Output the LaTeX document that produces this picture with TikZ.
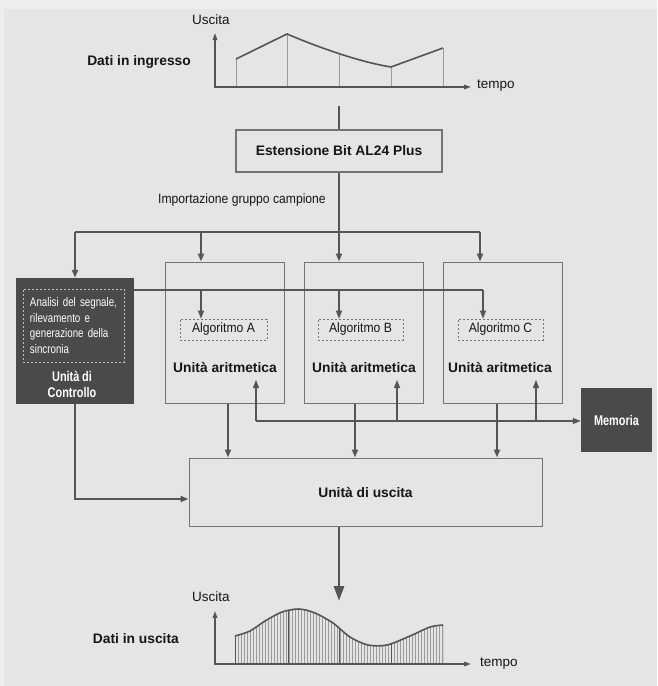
\documentclass[tikz,border=0pt]{standalone}
\usepackage{fontspec}
\setmainfont{Liberation Sans}
\newfontfamily\narrowfont[FakeStretch=0.9]{Liberation Sans}
\newfontfamily\condfont[FakeStretch=0.78]{Liberation Sans}
\newcommand\narrowspace{\spaceskip=3.4pt plus 1pt\relax}
\newcommand\condspace{\spaceskip=2.7pt plus 1pt\relax}
\usetikzlibrary{arrows.meta}
\definecolor{bgray}{HTML}{E5E5E5}
\definecolor{topgray}{HTML}{EDEDED}
\definecolor{linegray}{HTML}{555555}
\definecolor{boxgray}{HTML}{747474}
\definecolor{darkfill}{HTML}{4A4A4A}
\definecolor{inkblack}{HTML}{161616}
\definecolor{hatchgray}{HTML}{9A9A9A}

\begin{document}
\begin{tikzpicture}[x=1pt, y=-1pt,
    txt/.style={font=\fontsize{13.5}{16}\selectfont, text=inkblack, inner sep=0},
    boldtxt/.style={font=\fontsize{13.8}{16}\selectfont\bfseries, text=inkblack, inner sep=0},
    narrowtxt/.style={font=\narrowfont\fontsize{13.5}{16}\selectfont\narrowspace,
        text=inkblack, inner sep=0},
    whitetxt/.style={font=\condfont\bfseries\fontsize{14}{16}\selectfont\condspace,
        text=white, inner sep=0, align=center},
    unitbox/.style={draw=boxgray, line width=1pt, minimum width=119, minimum height=141, inner sep=0},
    algobox/.style={draw=boxgray, dashed, dash pattern=on 2pt off 2pt, line width=0.8pt,
        minimum height=21, inner sep=0, narrowtxt},
    darkbox/.style={fill=darkfill, draw=none, inner sep=0},
    bus/.style={draw=linegray, line width=2pt},
    wire/.style={draw=linegray, line width=1.1pt},
    arr/.style={-{Triangle[length=8pt, width=6pt]}},
    axisline/.style={draw=linegray, line width=1.5pt,
        {Triangle[length=7pt, width=4.5pt]}-{Triangle[length=7pt, width=4.5pt]}},
    sampleline/.style={draw=hatchgray, line width=0.9pt},
    curveline/.style={draw=linegray, line width=1.6pt}
]
    % Background
    \fill[topgray] (0,0) rectangle (657,686);
    \fill[bgray] (4,9) rectangle (657,686);
    \useasboundingbox (0,0) rectangle (657,686);

    % Input signal
    \node[txt] (yin) at (211,20) {Uscita};
    \node[boldtxt, anchor=east] (datiin) at (191,62) {Dati in ingresso};
    \node[txt, anchor=west] (tin) at (477,86) {tempo};
    \foreach \x/\y in {236/59, 287/34, 339/53, 391/67, 443/48}
        \draw[sampleline] (\x,\y) -- (\x,87);
    \draw[curveline] (236,59) -- (287,34) .. controls (320,48) and (360,62) .. (391,67) -- (443,48);
    \coordinate (o1) at (215,87);
    \draw[axisline] (215,33) -- (o1) -- (471,87);

    % Bit extension
    \coordinate (intop) at (339,106);
    \node[draw=boxgray, line width=1.4pt, minimum width=206, minimum height=42, inner sep=0,
        boldtxt] (est) at (339,151) {Estensione Bit AL24 Plus};
    \draw[bus, line width=2.4pt] (intop) -- (est.north);
    \node[narrowtxt] (imp) at (242,200) {Importazione gruppo campione};

    % Control unit
    \node[darkbox, minimum width=118, minimum height=126] (ctrl) at (75,341) {};
    \node[draw=white!75!black, dashed, dash pattern=on 2pt off 2pt, line width=0.8pt,
        minimum width=101, minimum height=73, text width=87, inner xsep=7, inner ysep=0,
        align=left, font=\condfont\fontsize{12.5}{15.7}\selectfont\condspace, text=white]
        (sig) at (73.5,325.5) {Analisi del segnale,\\ rilevamento e\\ generazione della\\ sincronia};
    \node[whitetxt] (ctrltxt) at (72,384) {Unità di\\ Controllo};

    % Arithmetic units
    \foreach \u/\xc in {ua/224.5, ub/363.5, uc/502.5}
        \node[unitbox] (\u) at (\xc,332.5) {};
    \node[algobox, minimum width=87] (algA) at (223.5,329.5) {Algoritmo A};
    \node[algobox, minimum width=85] (algB) at (360.5,329.5) {Algoritmo B};
    \node[algobox, minimum width=85] (algC) at (500.5,329.5) {Algoritmo C};
    \node[boldtxt] (aritA) at (225,368) {Unità aritmetica};
    \node[boldtxt] (aritB) at (364,368) {Unità aritmetica};
    \node[boldtxt] (aritC) at (500,368) {Unità aritmetica};

    % Memory and output unit
    \node[darkbox, minimum width=71, minimum height=64, whitetxt] (mem) at (616.5,420) {Memoria};
    \node[draw=boxgray, line width=1pt, minimum width=353, minimum height=68, inner sep=0,
        boldtxt] (usc) at (365.5,492) {Unità di uscita};

    % Sample bus
    \coordinate (busrow) at (0,232);
    \coordinate (dA) at (201,0);
    \coordinate (dB) at (339,0);
    \coordinate (dC) at (480,0);
    \draw[bus] (est.south) -- (est.south |- busrow);
    \draw[bus] (ctrl.north |- busrow) -- (dC |- busrow);
    \draw[bus, arr] (ctrl.north |- busrow) -- (ctrl.north);
    \foreach \d/\u in {dA/ua, dB/ub, dC/uc}
        \draw[bus, arr] (\d |- busrow) -- (\d |- \u.north);

    % Sync line
    \coordinate (syncrow) at (0,290);
    \coordinate (sA) at (201,0);
    \coordinate (sB) at (339,0);
    \coordinate (sC) at (483,0);
    \draw[wire] (ctrl.east |- syncrow) -- (sC |- syncrow);
    \foreach \s/\a in {sA/algA, sB/algB, sC/algC}
        \draw[wire, arr] (\s |- syncrow) -- (\s |- \a.north);

    % Memory bus
    \coordinate (memrow) at (0,421);
    \coordinate (uprow) at (0,380);
    \coordinate (mA) at (256,0);
    \coordinate (mB) at (397,0);
    \coordinate (mC) at (536,0);
    \draw[wire, arr] (mA |- memrow) -- (mem.west |- memrow);
    \foreach \m in {mA, mB, mC}
        \draw[wire, arr] (\m |- memrow) -- (\m |- uprow);

    % Results to output unit
    \coordinate (oA) at (228,0);
    \coordinate (oB) at (355,0);
    \coordinate (oC) at (497,0);
    \foreach \o/\u in {oA/ua, oB/ub, oC/uc}
        \draw[bus, arr] (\o |- \u.south) -- (\o |- usc.north);
    \coordinate (ctrlturn) at (75,499);
    \draw[bus, arr] (ctrl.south) -- (ctrlturn) -- (ctrlturn -| usc.west);

    % Output
    \coordinate (outtip) at (339,601);
    \draw[bus, line width=2.8pt, -{Triangle[length=15pt, width=10pt]}] (outtip |- usc.south) -- (outtip);

    % Output signal
    \node[txt] (yout) at (211,597) {Uscita};
    \node[boldtxt, anchor=east] (datiout) at (179,639) {Dati in uscita};
    \node[txt, anchor=west] (tout) at (480,664) {tempo};
    \def\outcurve{(235,636) (250,631) (265,621) (282,612) (299,609) (315,613) (333,623)
        (350,637) (368,645) (387,645) (410,636) (430,627) (443,625)}
    \begin{scope}
        \clip plot[smooth, tension=0.5] coordinates {\outcurve} -- (443,664) -- (235,664) -- cycle;
        \foreach \x in {238,241,...,442}
            \draw[draw=hatchgray, line width=0.5pt] (\x,600) -- (\x,664);
        \foreach \x in {235,288,339,391,443}
            \draw[draw=linegray, line width=1pt] (\x,600) -- (\x,664);
    \end{scope}
    \draw[curveline] plot[smooth, tension=0.5] coordinates {\outcurve};
    \coordinate (o2) at (215,664);
    \draw[axisline] (215,611) -- (o2) -- (471,664);
\end{tikzpicture}
\end{document}
